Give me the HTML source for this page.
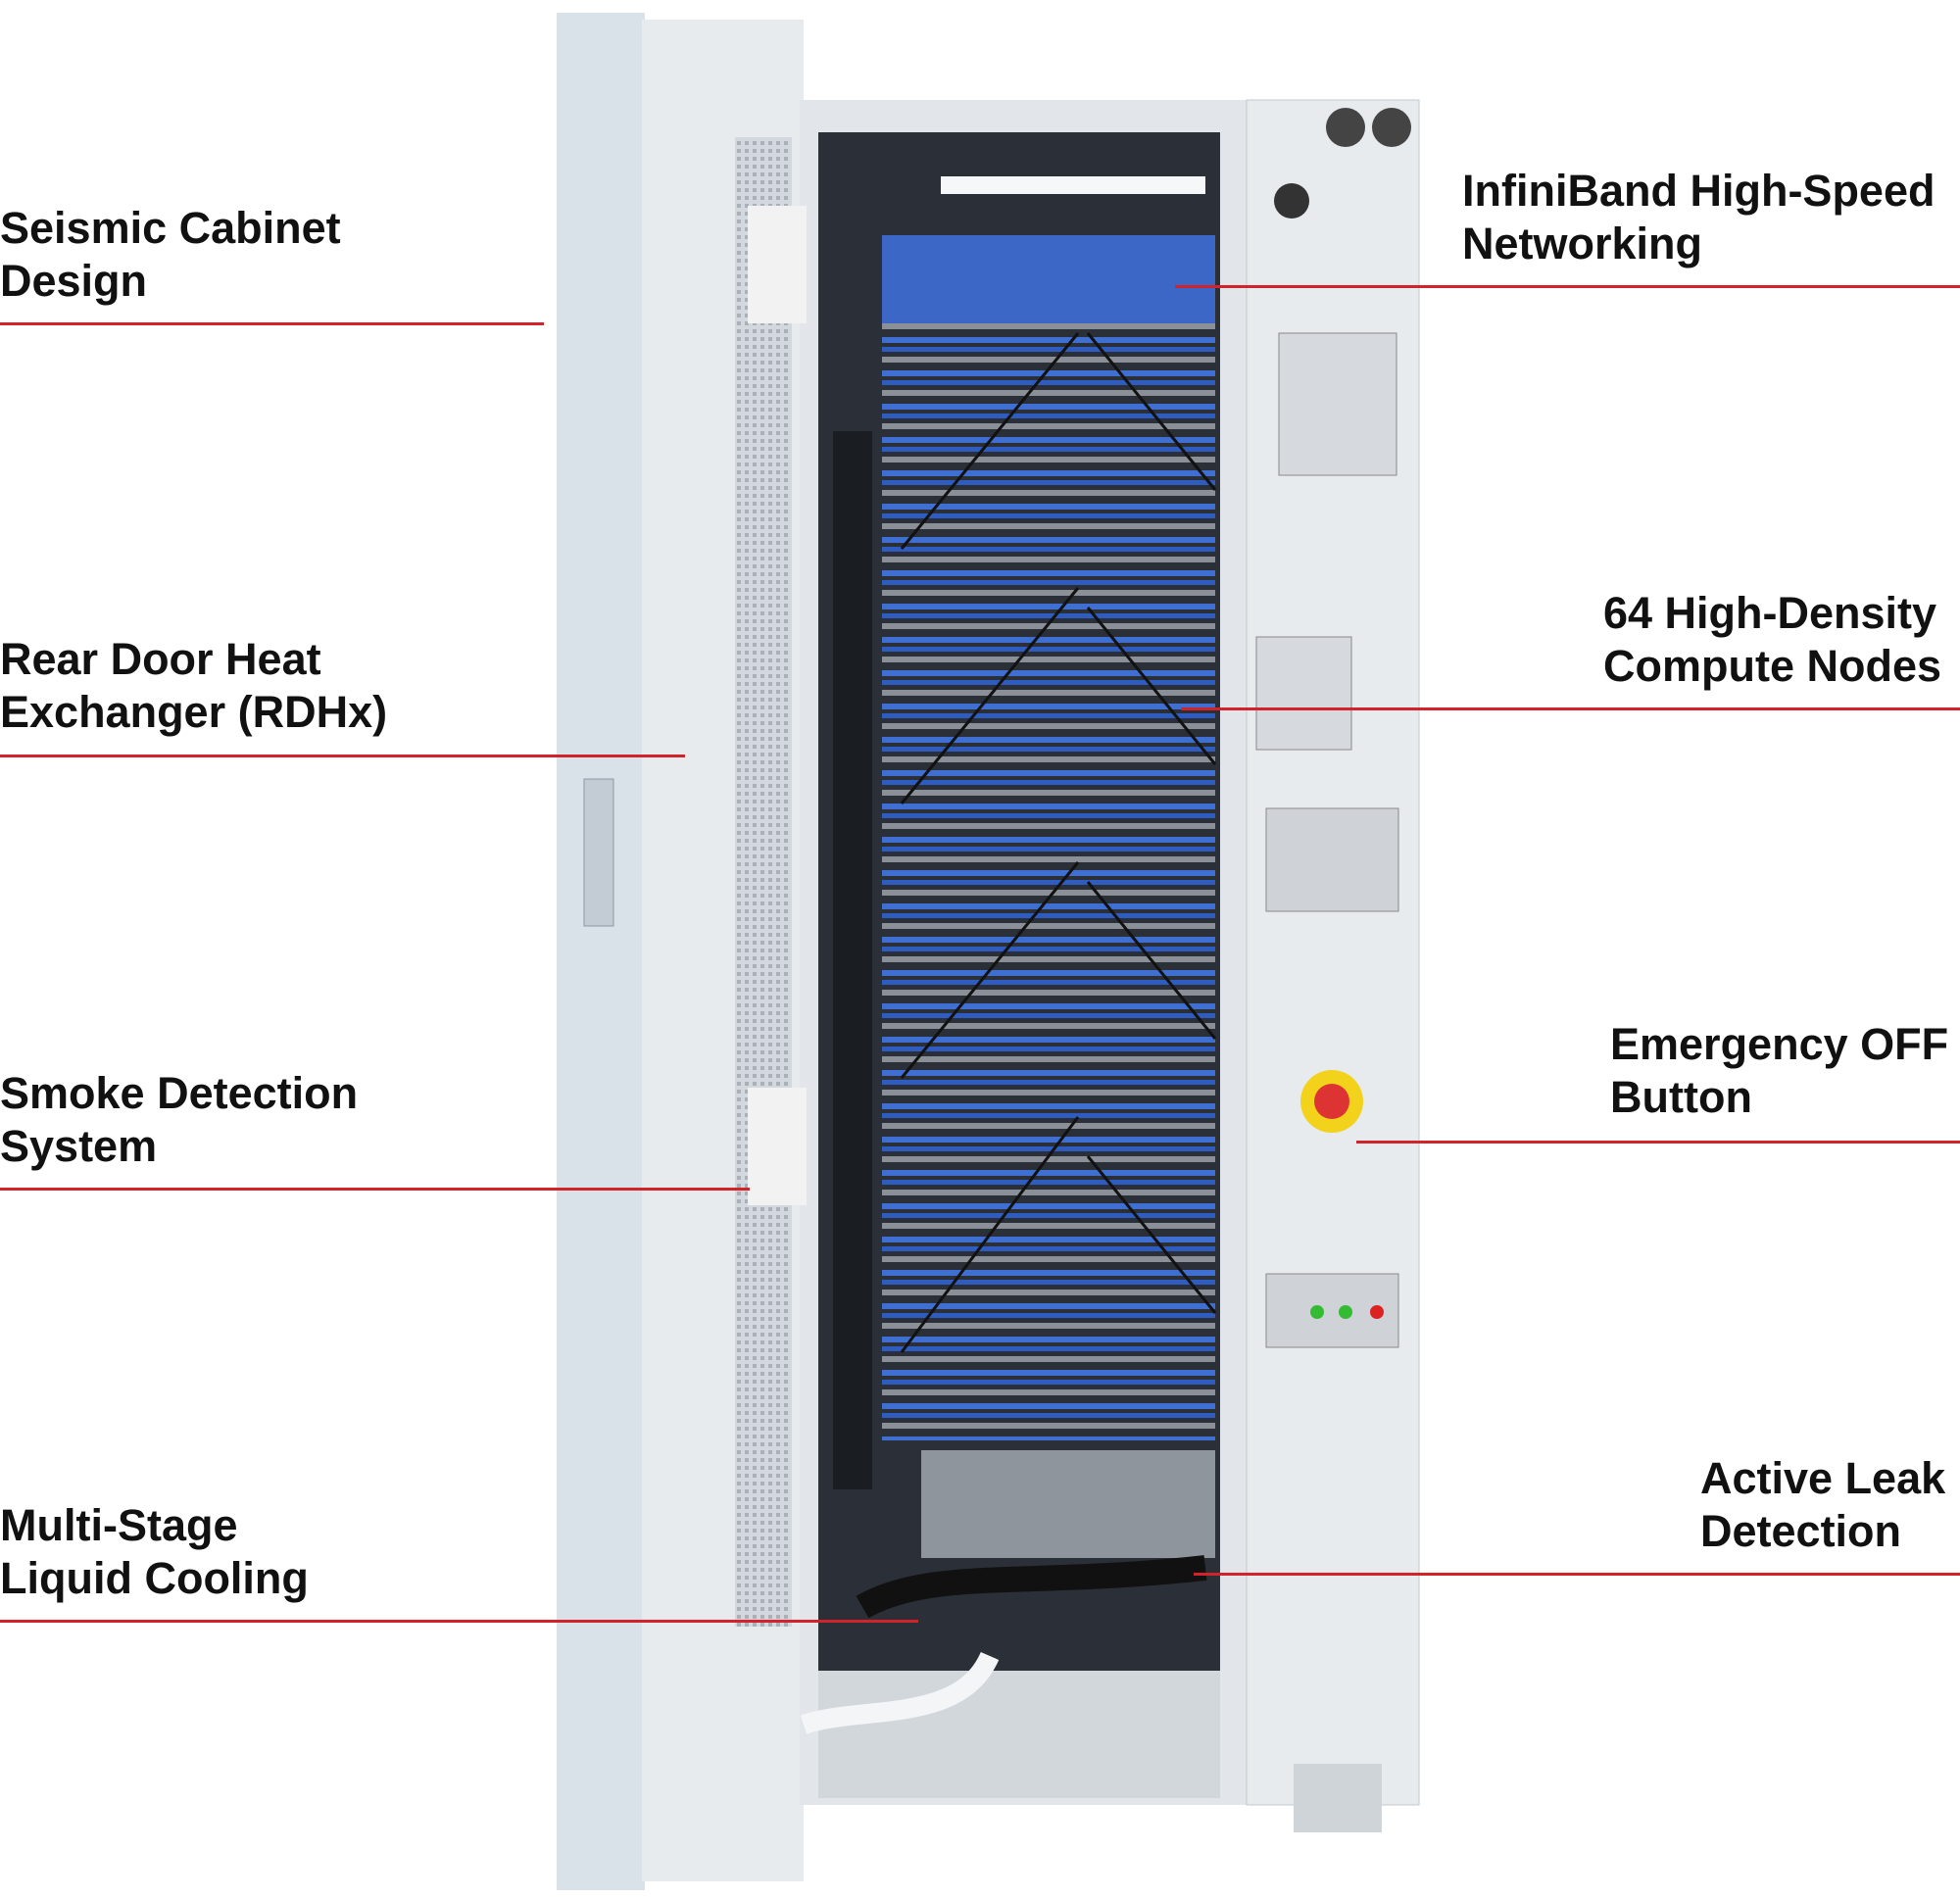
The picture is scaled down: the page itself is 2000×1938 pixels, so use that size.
<!DOCTYPE html>
<html><head><meta charset="utf-8"><style>
html,body{margin:0;padding:0;background:#fff;}
body{width:2000px;height:1938px;position:relative;overflow:hidden;font-family:"Liberation Sans",sans-serif;}
.l{position:absolute;font-weight:bold;font-size:45px;line-height:54px;color:#111;white-space:nowrap;}
.ln{position:absolute;height:3px;background:#d3232a;}
svg{position:absolute;left:0;top:0;}
</style></head><body>
<svg width="2000" height="1938" viewBox="0 0 2000 1938">
<defs>
<pattern id="cab" width="60" height="34" patternUnits="userSpaceOnUse">
<rect width="60" height="34" fill="#2a2f38"/>
<rect x="0" y="4" width="60" height="6" fill="#3f6fd0"/>
<rect x="0" y="14" width="60" height="5" fill="#2f5cc0"/>
<rect x="0" y="24" width="60" height="6" fill="#8a8f98"/>
</pattern>
<pattern id="mesh" width="8" height="8" patternUnits="userSpaceOnUse">
<rect width="8" height="8" fill="#d3d8de"/><rect width="4" height="4" fill="#a9b0b8"/>
</pattern>
</defs>
<rect x="568" y="13" width="90" height="1916" fill="#d9e1e9"/>
<rect x="655" y="20" width="165" height="1900" fill="#e8ebee"/>
<rect x="750" y="140" width="58" height="1520" fill="url(#mesh)"/>
<rect x="596" y="795" width="30" height="150" fill="#c3ccd5" stroke="#8d99a4"/>
<rect x="816" y="102" width="460" height="1740" fill="#e2e6ea"/>
<rect x="835" y="135" width="410" height="1570" fill="#2b3038"/>
<rect x="900" y="330" width="340" height="1140" fill="url(#cab)"/>
<rect x="900" y="240" width="340" height="90" fill="#3d67c7"/>
<g stroke="#111" stroke-width="3">
<path d="M1100 340 L920 560 M1100 600 L920 820 M1100 880 L920 1100 M1100 1140 L920 1380 M1110 340 L1240 500 M1110 620 L1240 780 M1110 900 L1240 1060 M1110 1180 L1240 1340"/>
</g>
<rect x="940" y="1480" width="300" height="110" fill="#8f959c"/>
<path d="M880 1640 C950 1600 1050 1620 1230 1600" stroke="#111" stroke-width="26" fill="none"/>
<rect x="835" y="1705" width="410" height="130" fill="#d2d7dc"/>
<path d="M820 1760 C880 1740 980 1760 1010 1690" stroke="#f4f5f6" stroke-width="20" fill="none"/>
<rect x="960" y="180" width="270" height="18" fill="#f6f7f8"/>
<rect x="850" y="440" width="40" height="1080" fill="#1a1d22"/>
<rect x="763" y="210" width="60" height="120" fill="#f2f2f2"/>
<rect x="763" y="1110" width="60" height="120" fill="#f2f2f2"/>
<rect x="1272" y="102" width="176" height="1740" fill="#e8ebed" stroke="#c3c8cd"/>
<circle cx="1373" cy="130" r="20" fill="#444"/><circle cx="1420" cy="130" r="20" fill="#444"/>
<circle cx="1318" cy="205" r="18" fill="#333"/>
<rect x="1305" y="340" width="120" height="145" fill="#d6dadf" stroke="#888"/>
<rect x="1282" y="650" width="97" height="115" fill="#d6dadf" stroke="#888"/>
<rect x="1292" y="825" width="135" height="105" fill="#cfd3d8" stroke="#888"/>
<circle cx="1359" cy="1124" r="32" fill="#f2d21b"/><circle cx="1359" cy="1124" r="18" fill="#d33"/>
<rect x="1292" y="1300" width="135" height="75" fill="#cfd3d8" stroke="#888"/>
<circle cx="1344" cy="1339" r="7" fill="#3b3"/><circle cx="1373" cy="1339" r="7" fill="#3b3"/><circle cx="1405" cy="1339" r="7" fill="#d22"/>
<rect x="1320" y="1800" width="90" height="70" fill="#cfd4d8"/>
</svg>
<div class="l" style="left:0;top:206px">Seismic Cabinet<br>Design</div>
<div class="ln" style="left:0;top:329px;width:555px"></div>
<div class="l" style="left:0;top:646px">Rear Door Heat<br>Exchanger (RDHx)</div>
<div class="ln" style="left:0;top:770px;width:699px"></div>
<div class="l" style="left:0;top:1089px">Smoke Detection<br>System</div>
<div class="ln" style="left:0;top:1212px;width:765px"></div>
<div class="l" style="left:0;top:1530px">Multi-Stage<br>Liquid Cooling</div>
<div class="ln" style="left:0;top:1653px;width:937px"></div>
<div class="l" style="left:1492px;top:168px">InfiniBand High-Speed<br>Networking</div>
<div class="ln" style="left:1199px;top:291px;width:801px"></div>
<div class="l" style="left:1636px;top:599px">64 High-Density<br>Compute Nodes</div>
<div class="ln" style="left:1205px;top:722px;width:795px"></div>
<div class="l" style="left:1643px;top:1039px">Emergency OFF<br>Button</div>
<div class="ln" style="left:1384px;top:1164px;width:616px"></div>
<div class="l" style="left:1735px;top:1482px">Active Leak<br>Detection</div>
<div class="ln" style="left:1218px;top:1605px;width:782px"></div>
</body></html>
